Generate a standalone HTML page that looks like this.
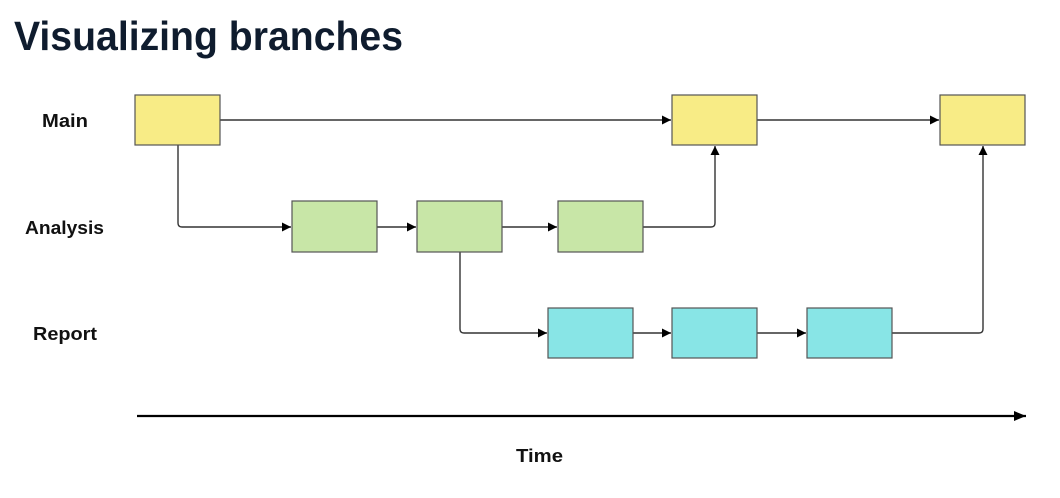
<!DOCTYPE html>
<html><head><meta charset="utf-8"><style>html,body{margin:0;padding:0;background:#fff;}svg{display:block}</style></head>
<body>
<svg width="1060" height="498" viewBox="0 0 1060 498" xmlns="http://www.w3.org/2000/svg">
<defs>
<marker id="a" markerWidth="9" markerHeight="9" refX="9" refY="4.5" orient="auto" markerUnits="userSpaceOnUse"><path d="M0,0 L9,4.5 L0,9 z" fill="#000"/></marker>
<marker id="b" markerWidth="12" markerHeight="10" refX="12" refY="5" orient="auto" markerUnits="userSpaceOnUse"><path d="M0,0 L12,5 L0,10 z" fill="#000"/></marker>
</defs>
<text x="14" y="50" font-family="Liberation Sans, sans-serif" font-weight="bold" font-size="41" fill="#0f1c2e" textLength="389" lengthAdjust="spacingAndGlyphs">Visualizing branches</text>
<g font-family="Liberation Sans, sans-serif" font-weight="bold" font-size="18" fill="#111">
<text x="42" y="127" textLength="46" lengthAdjust="spacingAndGlyphs">Main</text>
<text x="25" y="234" textLength="79" lengthAdjust="spacingAndGlyphs">Analysis</text>
<text x="33" y="340" textLength="64" lengthAdjust="spacingAndGlyphs">Report</text>
<text x="516" y="462" textLength="47" lengthAdjust="spacingAndGlyphs">Time</text>
</g>
<g fill="none" stroke="#333" stroke-width="1.4">
<path d="M220,120 H671" marker-end="url(#a)"/>
<path d="M757,120 H939" marker-end="url(#a)"/>
<path d="M178,145 V223 Q178,227 182,227 H291" marker-end="url(#a)"/>
<path d="M377,227 H416" marker-end="url(#a)"/>
<path d="M502,227 H557" marker-end="url(#a)"/>
<path d="M643,227 H711 Q715,227 715,223 V146" marker-end="url(#a)"/>
<path d="M460,252 V329 Q460,333 464,333 H547" marker-end="url(#a)"/>
<path d="M633,333 H671" marker-end="url(#a)"/>
<path d="M757,333 H806" marker-end="url(#a)"/>
<path d="M892,333 H979 Q983,333 983,329 V146" marker-end="url(#a)"/>
</g>
<path d="M137,416 H1026" stroke="#000" stroke-width="2.2" marker-end="url(#b)"/>
<g stroke="#555" stroke-width="1.2">
<rect x="135" y="95" width="85" height="50" fill="#f8ec86"/>
<rect x="672" y="95" width="85" height="50" fill="#f8ec86"/>
<rect x="940" y="95" width="85" height="50" fill="#f8ec86"/>
<rect x="292" y="201" width="85" height="51" fill="#c8e6a7"/>
<rect x="417" y="201" width="85" height="51" fill="#c8e6a7"/>
<rect x="558" y="201" width="85" height="51" fill="#c8e6a7"/>
<rect x="548" y="308" width="85" height="50" fill="#88e5e6"/>
<rect x="672" y="308" width="85" height="50" fill="#88e5e6"/>
<rect x="807" y="308" width="85" height="50" fill="#88e5e6"/>
</g>
</svg>
</body></html>
